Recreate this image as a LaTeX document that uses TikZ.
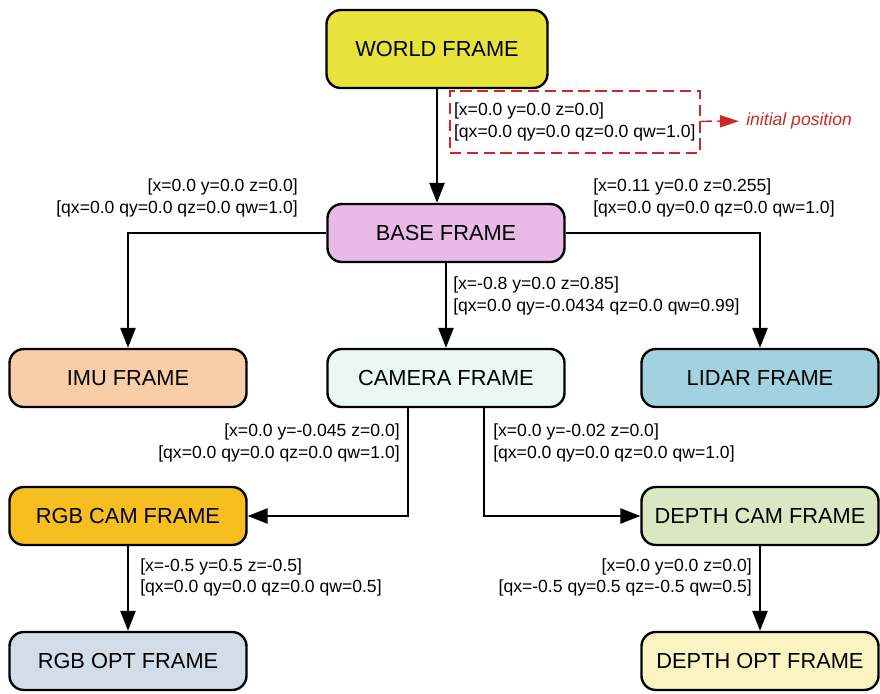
\documentclass[tikz,border=0pt]{standalone}
\usepackage{fontspec}
\setmainfont{Liberation Sans}
\usetikzlibrary{calc,positioning,arrows.meta}
\definecolor{worldcol}{RGB}{232,226,58}
\definecolor{basecol}{RGB}{232,186,230}
\definecolor{imucol}{RGB}{249,205,168}
\definecolor{camcol}{RGB}{234,248,244}
\definecolor{lidarcol}{RGB}{162,210,224}
\definecolor{rgbcol}{RGB}{246,190,30}
\definecolor{depthcol}{RGB}{217,232,194}
\definecolor{rgboptcol}{RGB}{210,221,234}
\definecolor{depthoptcol}{RGB}{251,243,194}
\definecolor{initred}{RGB}{204,40,40}

\begin{document}
\begin{tikzpicture}[x=0.025cm,y=-0.025cm,
frame/.style = {rectangle, rounded corners=0.36cm, draw=black, line width=1.7pt,
                minimum width=5.925cm, minimum height=1.45cm,
                font=\fontsize{15.5}{18}\selectfont},
tf/.style = {inner sep=0pt, font=\fontsize{12.5}{15}\selectfont},
line/.style = {draw, line width=1.4pt, -{Triangle[length=5mm,width=3.8mm]}},
redline/.style = {draw=initred, line width=1.2pt, dash pattern=on 8pt off 4pt}]

% frames
\node [frame, fill=worldcol, minimum width=5.525cm, minimum height=1.95cm] (world) at (437,49) {WORLD FRAME};
\node [frame, fill=basecol] (base) at (446,233) {BASE FRAME};
\node [frame, fill=imucol] (imu) at (128,378) {IMU FRAME};
\node [frame, fill=camcol] (camera) at (446,378) {CAMERA FRAME};
\node [frame, fill=lidarcol] (lidar) at (760,378) {LIDAR FRAME};
\node [frame, fill=rgbcol] (rgbcam) at (128,516) {RGB CAM FRAME};
\node [frame, fill=depthcol] (depthcam) at (760,516) {DEPTH CAM FRAME};
\node [frame, fill=rgboptcol] (rgbopt) at (128,661) {RGB OPT FRAME};
\node [frame, fill=depthoptcol] (depthopt) at (760,661) {DEPTH OPT FRAME};

% transforms
\node [tf, redline, anchor=north west, align=left, inner xsep=3pt, minimum height=1.55cm,
       font=\fontsize{12.5}{15.6}\selectfont] (initbox) at (449,90)
      {[x=0.0 y=0.0 z=0.0]\\\relax[qx=0.0 qy=0.0 qz=0.0 qw=1.0]};
\node [tf, anchor=west, inner xsep=5pt, text=initred, font=\fontsize{12.5}{15}\selectfont\itshape]
      (initpos) at (739,121) {initial position};
\node [tf, anchor=east, align=right] (tfimu) at (298,198)
      {[x=0.0 y=0.0 z=0.0]\\\relax[qx=0.0 qy=0.0 qz=0.0 qw=1.0]};
\node [tf, anchor=west, align=left] (tflidar) at (593,198)
      {[x=0.11 y=0.0 z=0.255]\\\relax[qx=0.0 qy=0.0 qz=0.0 qw=1.0]};
\node [tf, anchor=west, align=left] (tfcam) at (453,296)
      {[x=-0.8 y=0.0 z=0.85]\\\relax[qx=0.0 qy=-0.0434 qz=0.0 qw=0.99]};
\node [tf, anchor=east, align=right] (tfrgb) at (400,443)
      {[x=0.0 y=-0.045 z=0.0]\\\relax[qx=0.0 qy=0.0 qz=0.0 qw=1.0]};
\node [tf, anchor=west, align=left] (tfdepth) at (493,443)
      {[x=0.0 y=-0.02 z=0.0]\\\relax[qx=0.0 qy=0.0 qz=0.0 qw=1.0]};
\node [tf, anchor=west, align=left] (tfrgbopt) at (140,577)
      {[x=-0.5 y=0.5 z=-0.5]\\\relax[qx=0.0 qy=0.0 qz=0.0 qw=0.5]};
\node [tf, anchor=east, align=right] (tfdepthopt) at (752,577)
      {[x=0.0 y=0.0 z=0.0]\\\relax[qx=-0.5 qy=0.5 qz=-0.5 qw=0.5]};

\draw [redline, -{Triangle[length=0.475cm,width=0.3cm]}] (initbox) -- (initpos);

\begin{scope}[every path/.style=line]
\path (world.south) -- (world.south |- base.north);
\path (base.west) -| (imu.north);
\path (base.east) -| (lidar.north);
\path (base.south) -- (camera.north);
\path ($ (camera.south) + (-38,0) $) |- (rgbcam.east);
\path ($ (camera.south) + (38,0) $) |- (depthcam.west);
\path (rgbcam) -- (rgbopt);
\path (depthcam) -- (depthopt);
\end{scope}

\useasboundingbox (0,0) rectangle (880,694);
\end{tikzpicture}
\end{document}
